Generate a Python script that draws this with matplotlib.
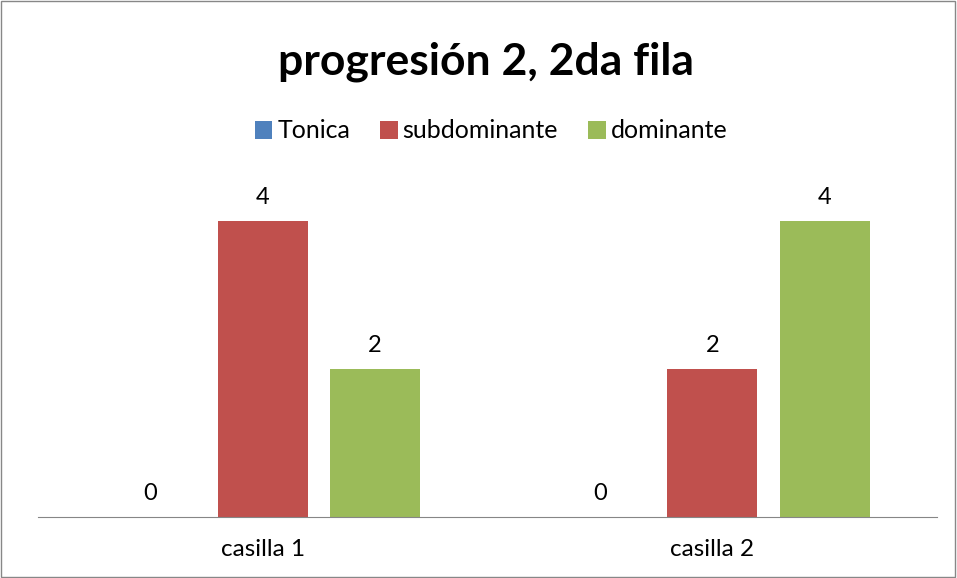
import matplotlib.pyplot as plt
import numpy as np
from matplotlib.patches import Rectangle

categories = ["casilla 1", "casilla 2"]
series_names = ["Tonica", "subdominante", "dominante"]
tonica = [0, 0]
subdominante = [4, 2]
dominante = [2, 4]
colors = ["#4F81BD", "#C0504D", "#9BBB59"]

plt.rcParams['font.family'] = ['Lato', 'DejaVu Sans']

fig = plt.figure(figsize=(9.57, 5.78), dpi=100)
# outer chart border
fig.patches.append(Rectangle((0.001, 0.001), 0.997, 0.997, transform=fig.transFigure,
                             fill=False, edgecolor="#878787", linewidth=1))

ax = fig.add_axes([38/957, (578-517)/578, 899/957, (517-147)/578])
x = np.arange(len(categories))
w = 0.2
offsets = [-0.25, 0, 0.25]
for vals, name, col, off in zip([tonica, subdominante, dominante], series_names, colors, offsets):
    bars = ax.bar(x + off, vals, w, color=col, label=name)
    for b, v in zip(bars, vals):
        ax.text(b.get_x() + b.get_width()/2, v + 0.18, str(v), ha="center", va="bottom",
                fontsize=17, color="black")

ax.set_xlim(-0.5, 1.5)
ax.set_ylim(0, 5)
ax.set_yticks([])
ax.set_xticks(x)
ax.set_xticklabels(categories, fontsize=17.5)
ax.tick_params(axis="x", length=0, pad=16)
for s in ["top", "right", "left"]:
    ax.spines[s].set_visible(False)
ax.spines["bottom"].set_color("#868686")

fig.text(0.508, 1 - 62/578, "progresión 2, 2da fila", ha="center", va="center",
         fontsize=32, fontweight="bold")
fig.legend(loc="center", bbox_to_anchor=(0.513, 1 - 131/578), ncol=3, frameon=False,
           fontsize=18, handlelength=0.7, handleheight=0.7, handletextpad=0.2,
           columnspacing=1.2)

fig.savefig("out.png", dpi=100)
